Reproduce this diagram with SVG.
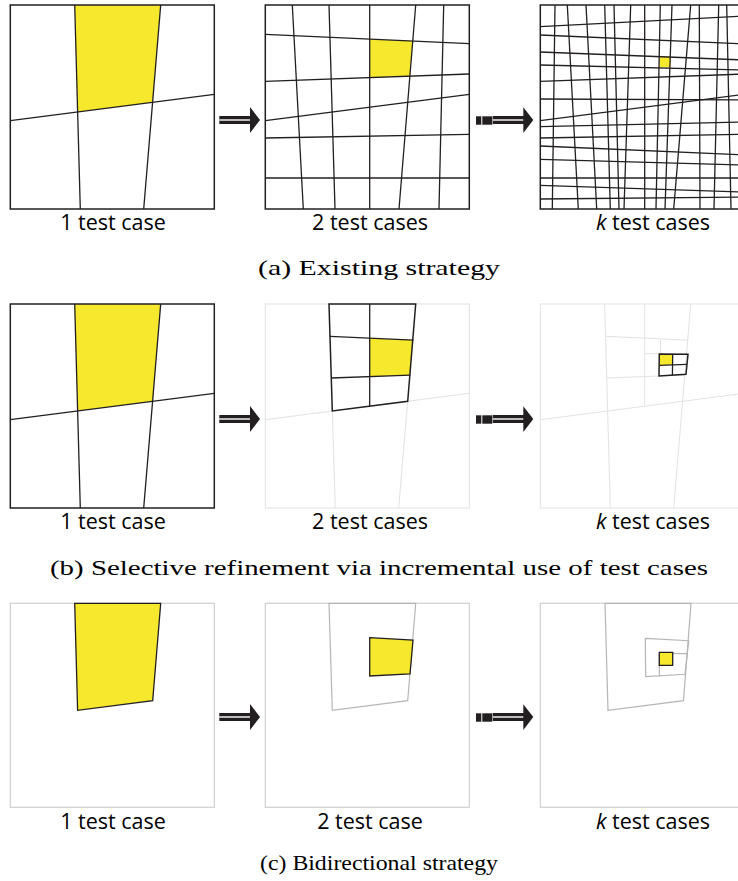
<svg xmlns="http://www.w3.org/2000/svg" width="738" height="881" viewBox="0 0 738 881">
<style>
.bg{fill:#fff}
.k{stroke:#231f20;stroke-width:1.3;fill:none}
.kb{stroke:#231f20;stroke-width:1.5;fill:none}
.lg{stroke:#e2e2e2;stroke-width:1;fill:none}
.gb{stroke:#cfcfcf;stroke-width:1.2;fill:none}
.gm{stroke:#b5b5b5;stroke-width:1.2;fill:none}
.y{fill:#f6e92d;stroke:none}
.ys{fill:#f6e92d;stroke:#231f20;stroke-width:1.3}
.lbl{font-family:"Open Sans","Liberation Sans",sans-serif;font-size:21.5px;fill:#000;text-anchor:middle}
.cap{font-family:"Liberation Serif","DejaVu Serif",serif;font-size:21.5px;fill:#000}
.ar{fill:#231f20}
</style>
<rect class="bg" x="0" y="0" width="738" height="881"/>

<!-- Row (a) -->
<g id="a1">
<polygon class="y" points="74.7,5 160.7,5 152.7,102.3 77.6,112"/>
<rect class="kb" x="10.3" y="5" width="204" height="204"/>
<line class="k" x1="10.3" y1="120.7" x2="214.3" y2="94.3"/>
<line class="k" x1="74.7" y1="5" x2="80.3" y2="209"/>
<line class="k" x1="160.7" y1="5" x2="143.7" y2="209"/>
<text class="lbl" x="113" y="230">1 test case</text>
</g>

<g id="a2">
<polygon class="y" points="369.7,39.1 412.8,41 409.9,76.1 369.7,77.6"/>
<rect class="kb" x="265.3" y="5" width="204" height="204"/>
<line class="k" x1="265.3" y1="34.3" x2="469.3" y2="43.7"/>
<line class="k" x1="265.3" y1="81.3" x2="469.3" y2="74"/>
<line class="k" x1="265.3" y1="120.7" x2="469.3" y2="94.3"/>
<line class="k" x1="265.3" y1="138" x2="469.3" y2="134.3"/>
<line class="k" x1="265.3" y1="178" x2="469.3" y2="178"/>
<line class="k" x1="292.3" y1="5" x2="303.3" y2="209"/>
<line class="k" x1="329" y1="5" x2="335" y2="209"/>
<line class="k" x1="369.7" y1="5" x2="369.7" y2="209"/>
<line class="k" x1="415.7" y1="5" x2="399" y2="209"/>
<line class="k" x1="443.7" y1="5" x2="439" y2="209"/>
<text class="lbl" x="370" y="230">2 test cases</text>
</g>

<g id="a3">
<polygon class="y" points="659.5,56.3 671,56.5 670.6,67.3 659.3,67.5"/>
<rect class="kb" x="540.3" y="5" width="204" height="204"/>
<line class="k" x1="540.3" y1="26.7" x2="744.3" y2="16"/>
<line class="k" x1="540.3" y1="35" x2="744.3" y2="44"/>
<line class="k" x1="540.3" y1="52" x2="744.3" y2="60"/>
<line class="k" x1="540.3" y1="65" x2="744.3" y2="70"/>
<line class="k" x1="540.3" y1="81.3" x2="744.3" y2="74"/>
<line class="k" x1="540.3" y1="99" x2="744.3" y2="100"/>
<line class="k" x1="540.3" y1="120.7" x2="744.3" y2="94.3"/>
<line class="k" x1="540.3" y1="126.7" x2="744.3" y2="122"/>
<line class="k" x1="540.3" y1="138" x2="744.3" y2="134.3"/>
<line class="k" x1="540.3" y1="146" x2="744.3" y2="155"/>
<line class="k" x1="540.3" y1="159.3" x2="744.3" y2="165"/>
<line class="k" x1="540.3" y1="178" x2="744.3" y2="178"/>
<line class="k" x1="540.3" y1="185.3" x2="744.3" y2="192"/>
<line class="k" x1="540.3" y1="199" x2="744.3" y2="197"/>
<line class="k" x1="555" y1="5" x2="552.3" y2="209"/>
<line class="k" x1="567.3" y1="5" x2="578.3" y2="209"/>
<line class="k" x1="586" y1="5" x2="596.7" y2="209"/>
<line class="k" x1="604.7" y1="5" x2="610.3" y2="209"/>
<line class="k" x1="614" y1="5" x2="619" y2="209"/>
<line class="k" x1="630.7" y1="5" x2="624" y2="209"/>
<line class="k" x1="644.7" y1="5" x2="644.7" y2="209"/>
<line class="k" x1="660.3" y1="5" x2="656" y2="209"/>
<line class="k" x1="672" y1="5" x2="665" y2="209"/>
<line class="k" x1="690.7" y1="5" x2="673.7" y2="209"/>
<line class="k" x1="699.3" y1="5" x2="700" y2="209"/>
<line class="k" x1="718.7" y1="5" x2="714" y2="209"/>
<line class="k" x1="726.7" y1="5" x2="731" y2="209"/>
<text class="lbl" x="653" y="230"><tspan font-style="italic">k</tspan> test cases</text>
</g>

<text id="cap-a" class="cap" x="258" y="275" textLength="242" lengthAdjust="spacingAndGlyphs">(a) Existing strategy</text>

<!-- Row (b) -->
<g id="b1">
<polygon class="y" points="74.7,304 160.7,304 152.7,401.3 77.6,411"/>
<rect class="kb" x="10.3" y="304" width="204" height="204"/>
<line class="k" x1="10.3" y1="419.7" x2="214.3" y2="393.3"/>
<line class="k" x1="74.7" y1="304" x2="80.3" y2="508"/>
<line class="k" x1="160.7" y1="304" x2="143.7" y2="508"/>
<text class="lbl" x="113" y="529">1 test case</text>
</g>

<g id="b2">
<rect class="lg" x="265.3" y="304" width="204" height="204"/>
<line class="lg" x1="265.3" y1="419.7" x2="469.3" y2="393.3"/>
<line class="lg" x1="332.3" y1="411" x2="335.3" y2="508"/>
<line class="lg" x1="407.7" y1="401.3" x2="398.7" y2="508"/>
<polygon class="y" points="369.7,338.1 412.8,340 409.9,375.1 369.7,376.6"/>
<polygon class="kb" points="329,304 415.7,304 407.7,401.3 332.3,411"/>
<line class="k" x1="369.7" y1="304" x2="369.7" y2="406.2"/>
<line class="k" x1="330" y1="336.3" x2="413.5" y2="340.1"/>
<line class="k" x1="331.3" y1="378" x2="410.4" y2="375.1"/>
<text class="lbl" x="370" y="529">2 test cases</text>
</g>

<g id="b3">
<rect class="lg" x="540.3" y="304" width="204" height="204"/>
<line class="lg" x1="540.3" y1="419.7" x2="744.3" y2="393.3"/>
<line class="lg" x1="604.7" y1="304" x2="610.3" y2="508"/>
<line class="lg" x1="690.7" y1="304" x2="673.7" y2="508"/>
<line class="lg" x1="644.7" y1="304" x2="644.7" y2="405.5"/>
<line class="lg" x1="605.6" y1="336.3" x2="688.5" y2="340.2"/>
<line class="lg" x1="606.5" y1="378" x2="685.5" y2="375"/>
<line class="lg" x1="660.5" y1="340" x2="660.5" y2="354"/>
<line class="lg" x1="644.7" y1="353.6" x2="660" y2="353.8"/>
<polygon class="y" points="659.3,354 672.7,354.2 672.6,364.8 659.2,365.3"/>
<polygon class="kb" points="659.3,354 688,354.3 686,374.3 659,376"/>
<line class="k" x1="672.7" y1="354.2" x2="672.4" y2="375.2"/>
<line class="k" x1="659.2" y1="365.3" x2="687" y2="364.3"/>
<text class="lbl" x="653" y="529"><tspan font-style="italic">k</tspan> test cases</text>
</g>

<text id="cap-b" class="cap" x="50" y="575" textLength="658" lengthAdjust="spacingAndGlyphs">(b) Selective refinement via incremental use of test cases</text>

<!-- Row (c) -->
<g id="c1">
<rect class="gb" x="10.3" y="603.3" width="204" height="204"/>
<polygon class="ys" points="74.7,603.3 160.7,603.3 152.7,700.6 77.6,710.3"/>
<text class="lbl" x="113" y="829">1 test case</text>
</g>

<g id="c2">
<rect class="gb" x="265.3" y="603.3" width="204" height="204"/>
<polygon class="gm" points="329,603.3 415.7,603.3 407.7,700.6 332.3,710.3"/>
<polygon class="ys" points="369.7,637.7 413,640 410,674 369.7,676"/>
<text class="lbl" x="370" y="829">2 test case</text>
</g>

<g id="c3">
<rect class="gb" x="540.3" y="603.3" width="204" height="204"/>
<polygon class="gm" points="605,603.3 691,603.3 683.5,700.6 608,710.3"/>
<polygon class="gm" points="645.3,638.3 688.7,640.7 685,674.3 645.7,676.7"/>
<line class="gm" x1="659.3" y1="653.3" x2="688" y2="653.6"/>
<line class="gm" x1="659.3" y1="653.3" x2="659.4" y2="676.3"/>
<polygon class="ys" points="659.3,652.3 672.7,652.3 672.7,665.3 659.3,665.3"/>
<text class="lbl" x="653" y="829"><tspan font-style="italic">k</tspan> test cases</text>
</g>

<text id="cap-c" class="cap" x="260" y="870" textLength="238" lengthAdjust="spacingAndGlyphs">(c) Bidirectional strategy</text>

<defs>
<g id="arrow1">
<rect class="ar" x="219.3" y="116" width="33" height="8"/>
<rect fill="#fff" x="219.3" y="119.3" width="32" height="1.4"/>
<polygon class="ar" points="250,107 260,120 250,133"/>
</g>
<g id="arrow2">
<rect class="ar" x="476" y="116.3" width="5.3" height="8.4"/>
<rect class="ar" x="482.3" y="116.3" width="10" height="8.4"/>
<rect class="ar" x="492.8" y="116" width="32" height="8"/>
<rect fill="#fff" x="492.8" y="119.3" width="31" height="1.4"/>
<polygon class="ar" points="523.3,107.3 533.3,120 523.3,133"/>
</g>
</defs>

<g id="connectors">
<use href="#arrow1"/>
<use href="#arrow2"/>
<use href="#arrow1" transform="translate(0,299)"/>
<use href="#arrow2" transform="translate(0,299)"/>
<use href="#arrow1" transform="translate(0,597)"/>
<use href="#arrow2" transform="translate(0,597)"/>
</g>
</svg>
